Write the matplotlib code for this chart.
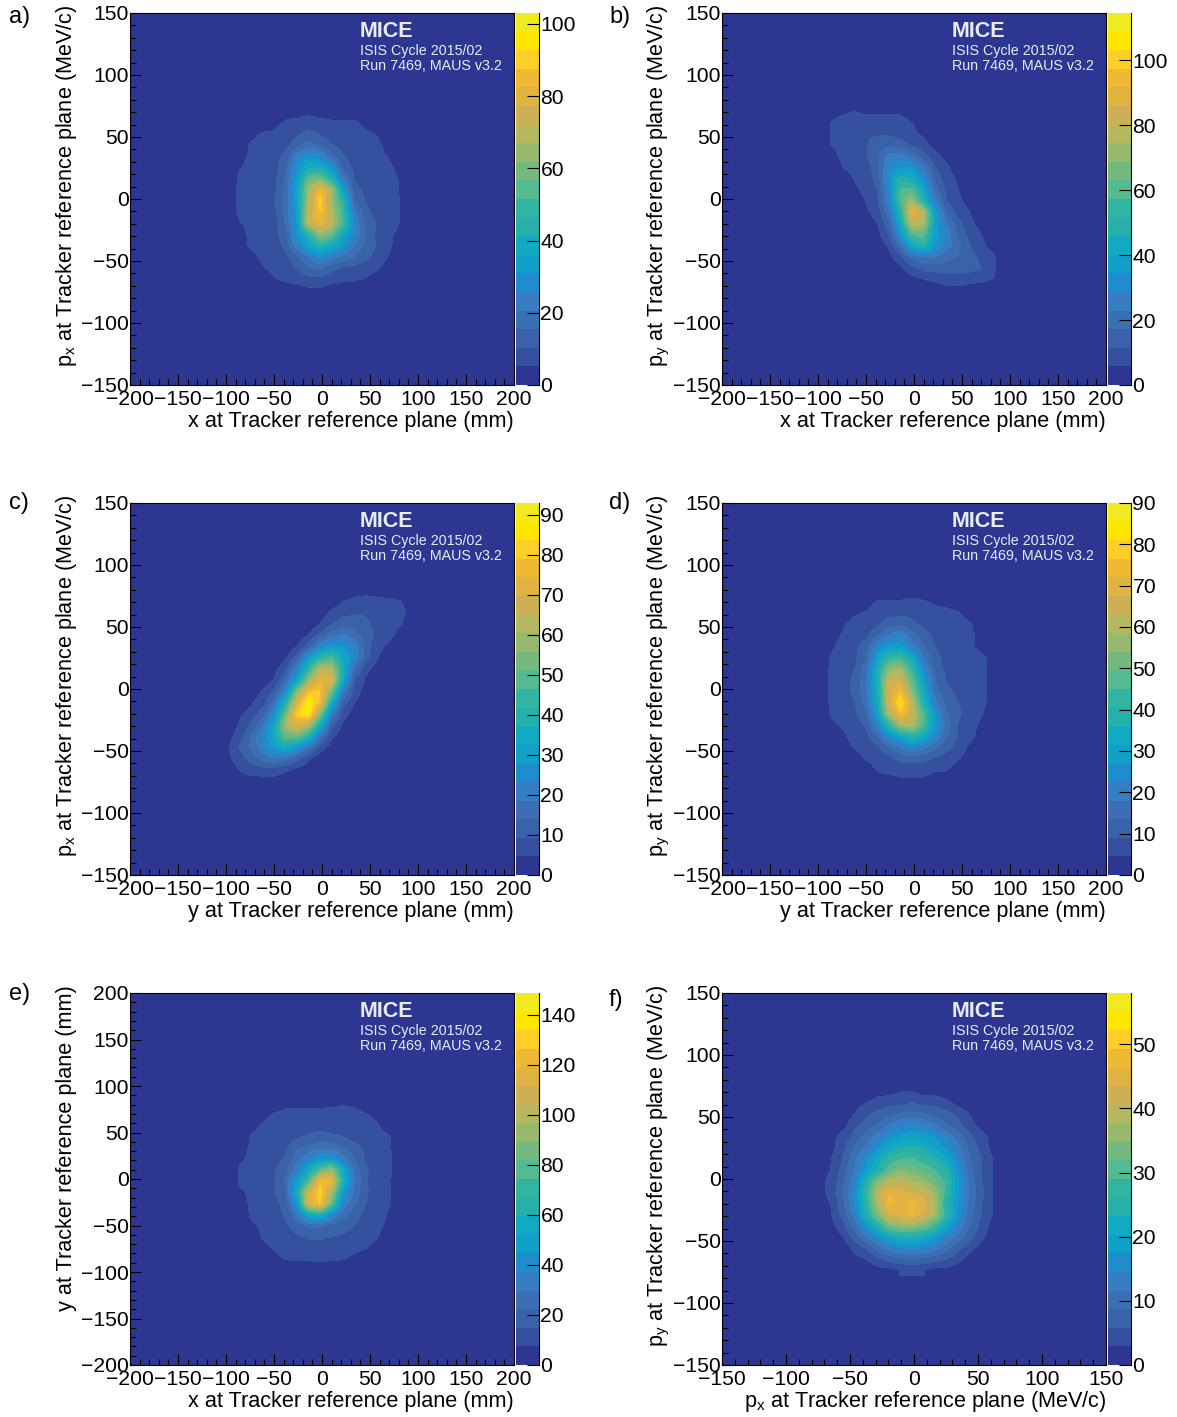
import matplotlib
matplotlib.use("Agg")
import numpy as np
import matplotlib.pyplot as plt
from matplotlib.colors import ListedColormap, BoundaryNorm
from matplotlib.ticker import MultipleLocator, FuncFormatter

plt.rcParams["font.family"] = ["Liberation Sans", "DejaVu Sans"]
plt.rcParams["mathtext.fontset"] = "custom"
plt.rcParams["mathtext.rm"] = "Liberation Sans"
plt.rcParams["axes.unicode_minus"] = True

bird_colors = ["#2d3791", "#34509f", "#3a62a9", "#3c6eb4", "#377dc3", "#1e8ccd",
               "#12a0c8", "#12aac3", "#28afaa", "#32b4a0", "#55b991", "#73b97d",
               "#96b96e", "#b4b95f", "#cdaf55", "#e1b441", "#f0b932", "#ffcd28",
               "#ffe600", "#f0eb1e"]

# counts on a 3-bin grid, top row first, only the middle of each histogram
counts_a = [
    [0, 0, 0, 0, 0, 0, 0, 0, 1, 0, 0, 0, 0, 0, 0, 0, 0],
    [0, 0, 0, 0, 0, 3, 3, 4, 3, 3, 3, 3, 2, 0, 0, 0, 0],
    [0, 0, 0, 2, 4, 6, 7, 8, 7, 6, 6, 6, 4, 2, 0, 0, 0],
    [0, 0, 4, 6, 6, 7, 10, 12, 10, 8, 7, 7, 6, 5, 2, 0, 0],
    [0, 2, 6, 6, 7, 9, 13, 18, 15, 11, 8, 7, 7, 6, 4, 1, 0],
    [0, 4, 6, 6, 8, 12, 25, 30, 28, 17, 11, 8, 7, 6, 5, 3, 0],
    [1, 5, 6, 6, 8, 14, 30, 40, 40, 32, 14, 9, 7, 6, 6, 4, 1],
    [2, 6, 6, 7, 9, 16, 32, 58, 60, 45, 23, 10, 8, 7, 6, 5, 1],
    [3, 6, 6, 7, 9, 17, 35, 66, 84, 70, 35, 12, 9, 8, 6, 5, 2],
    [3, 6, 6, 7, 10, 17, 35, 68, 92, 65, 48, 16, 10, 8, 7, 5, 2],
    [3, 6, 6, 7, 9, 17, 33, 72, 88, 70, 50, 22, 12, 8, 7, 5, 2],
    [2, 5, 6, 7, 8, 16, 32, 74, 82, 72, 52, 26, 14, 10, 7, 5, 1],
    [1, 4, 6, 6, 8, 14, 30, 45, 65, 58, 38, 26, 15, 9, 6, 4, 1],
    [0, 3, 6, 6, 7, 12, 24, 35, 45, 40, 30, 20, 14, 10, 6, 3, 0],
    [0, 1, 4, 6, 6, 9, 14, 22, 28, 24, 20, 16, 12, 8, 5, 2, 0],
    [0, 0, 2, 5, 6, 7, 11, 15, 17, 12, 10, 9, 7, 6, 3, 0, 0],
    [0, 0, 0, 3, 5, 6, 7, 9, 9, 7, 6, 6, 5, 3, 1, 0, 0],
    [0, 0, 0, 0, 2, 3, 3, 4, 4, 3, 3, 2, 1, 0, 0, 0, 0],
]
counts_b = [
    [0, 1, 2, 1, 1, 1, 0, 0, 0, 0, 0, 0, 0, 0, 0, 0, 0],
    [1, 4, 5, 6, 5, 5, 5, 5, 3, 1, 0, 0, 0, 0, 0, 0, 0],
    [3, 6, 8, 9, 8, 8, 9, 8, 6, 3, 1, 0, 0, 0, 0, 0, 0],
    [3, 6, 8, 10, 11, 11, 11, 9, 7, 5, 2, 0, 0, 0, 0, 0, 0],
    [2, 6, 7, 9, 11, 14, 16, 15, 11, 8, 4, 2, 0, 0, 0, 0, 0],
    [1, 4, 7, 8, 11, 16, 26, 26, 22, 14, 8, 4, 1, 0, 0, 0, 0],
    [0, 2, 6, 7, 9, 15, 30, 35, 35, 24, 12, 7, 3, 1, 0, 0, 0],
    [0, 1, 4, 6, 8, 14, 32, 50, 45, 32, 16, 8, 5, 2, 0, 0, 0],
    [0, 0, 2, 5, 7, 12, 30, 58, 60, 40, 20, 10, 6, 3, 1, 0, 0],
    [0, 0, 1, 3, 6, 10, 28, 60, 76, 50, 26, 12, 7, 4, 2, 0, 0],
    [0, 0, 0, 2, 5, 8, 22, 50, 92, 80, 38, 17, 9, 6, 3, 1, 0],
    [0, 0, 0, 1, 3, 6, 16, 45, 80, 76, 38, 24, 14, 7, 4, 2, 0],
    [0, 0, 0, 0, 2, 4, 12, 32, 60, 62, 38, 28, 16, 10, 6, 3, 1],
    [0, 0, 0, 0, 1, 2, 7, 20, 42, 50, 35, 26, 19, 12, 7, 4, 2],
    [0, 0, 0, 0, 0, 1, 4, 10, 20, 24, 24, 19, 17, 14, 10, 7, 3],
    [0, 0, 0, 0, 0, 0, 2, 5, 10, 14, 14, 15, 14, 14, 12, 7, 3],
    [0, 0, 0, 0, 0, 0, 0, 2, 4, 6, 7, 8, 9, 8, 7, 6, 3],
    [0, 0, 0, 0, 0, 0, 0, 0, 1, 2, 3, 4, 4, 3, 3, 2, 1],
]
counts_c = [
    [0, 0, 0, 0, 0, 0, 0, 0, 0, 0, 1, 3, 3, 3, 2, 2, 1],
    [0, 0, 0, 0, 0, 0, 0, 0, 0, 2, 5, 6, 7, 6, 6, 5, 3],
    [0, 0, 0, 0, 0, 0, 0, 0, 2, 6, 8, 9, 9, 8, 7, 6, 3],
    [0, 0, 0, 0, 0, 0, 0, 1, 5, 9, 12, 12, 10, 8, 7, 5, 2],
    [0, 0, 0, 0, 0, 0, 1, 5, 11, 17, 20, 16, 12, 8, 6, 3, 1],
    [0, 0, 0, 0, 0, 1, 5, 12, 24, 30, 28, 22, 12, 6, 4, 2, 0],
    [0, 0, 0, 0, 1, 4, 12, 30, 42, 48, 34, 24, 11, 5, 2, 1, 0],
    [0, 0, 0, 1, 3, 8, 22, 42, 64, 62, 38, 16, 6, 3, 1, 0, 0],
    [0, 0, 1, 2, 5, 14, 32, 58, 74, 72, 34, 10, 4, 2, 0, 0, 0],
    [0, 1, 2, 5, 10, 24, 55, 78, 80, 55, 22, 7, 3, 1, 0, 0, 0],
    [1, 2, 4, 7, 16, 38, 70, 90, 78, 38, 12, 5, 2, 0, 0, 0, 0],
    [1, 4, 6, 12, 24, 52, 82, 90, 58, 22, 7, 3, 1, 0, 0, 0, 0],
    [2, 5, 10, 18, 34, 60, 72, 65, 38, 12, 4, 2, 0, 0, 0, 0, 0],
    [3, 7, 14, 24, 35, 52, 54, 42, 20, 6, 2, 0, 0, 0, 0, 0, 0],
    [4, 10, 15, 22, 30, 36, 30, 20, 8, 3, 1, 0, 0, 0, 0, 0, 0],
    [4, 7, 12, 16, 20, 18, 12, 6, 2, 1, 0, 0, 0, 0, 0, 0, 0],
    [2, 5, 7, 8, 8, 6, 4, 2, 0, 0, 0, 0, 0, 0, 0, 0, 0],
    [1, 3, 3, 3, 3, 2, 1, 0, 0, 0, 0, 0, 0, 0, 0, 0, 0],
]
counts_d = [
    [0, 0, 0, 0, 0, 1, 2, 2, 2, 2, 1, 1, 1, 0, 0, 0, 0],
    [0, 0, 0, 1, 3, 5, 5, 5, 6, 5, 4, 3, 2, 1, 0, 0, 0],
    [0, 0, 2, 4, 5, 6, 7, 8, 8, 7, 6, 6, 5, 3, 1, 0, 0],
    [0, 1, 4, 6, 7, 8, 12, 12, 10, 8, 7, 6, 6, 5, 3, 1, 0],
    [1, 3, 5, 7, 8, 13, 18, 22, 16, 11, 8, 7, 6, 5, 4, 2, 0],
    [1, 4, 6, 8, 11, 23, 28, 30, 20, 14, 9, 7, 6, 5, 4, 3, 1],
    [2, 5, 6, 8, 13, 30, 42, 44, 34, 18, 11, 7, 6, 5, 5, 4, 1],
    [3, 5, 7, 9, 16, 36, 55, 58, 42, 24, 12, 8, 6, 5, 5, 4, 2],
    [3, 5, 7, 10, 17, 38, 64, 66, 50, 30, 14, 9, 7, 6, 5, 4, 2],
    [3, 5, 7, 10, 18, 36, 66, 74, 54, 35, 16, 10, 8, 6, 5, 4, 2],
    [3, 5, 7, 9, 16, 34, 66, 84, 64, 38, 20, 12, 9, 7, 5, 4, 2],
    [2, 5, 6, 8, 13, 30, 60, 76, 64, 48, 26, 14, 10, 7, 5, 3, 1],
    [2, 4, 5, 7, 10, 22, 42, 60, 62, 46, 28, 16, 9, 6, 4, 2, 1],
    [1, 3, 4, 6, 8, 14, 26, 34, 40, 35, 24, 14, 9, 6, 3, 1, 0],
    [0, 1, 3, 5, 6, 8, 14, 18, 24, 20, 15, 11, 7, 4, 2, 0, 0],
    [0, 0, 1, 3, 5, 6, 8, 11, 12, 11, 9, 7, 5, 3, 1, 0, 0],
    [0, 0, 0, 1, 3, 5, 6, 6, 6, 6, 5, 5, 3, 1, 0, 0, 0],
    [0, 0, 0, 0, 1, 3, 3, 4, 4, 4, 3, 3, 1, 0, 0, 0, 0],
]
counts_e = [
    [0, 0, 0, 0, 0, 0, 0, 0, 0, 0, 0, 0, 0, 0, 0, 0, 0],
    [0, 0, 0, 0, 0, 2, 3, 4, 3, 4, 3, 2, 0, 0, 0, 0, 0],
    [0, 0, 0, 2, 4, 6, 6, 6, 6, 6, 7, 6, 3, 1, 0, 0, 0],
    [0, 0, 3, 6, 8, 9, 9, 9, 9, 10, 10, 10, 8, 6, 2, 0, 0],
    [0, 2, 6, 8, 9, 10, 11, 12, 12, 12, 12, 11, 9, 8, 5, 2, 0],
    [1, 4, 8, 9, 9, 11, 14, 16, 18, 16, 15, 12, 11, 9, 8, 4, 1],
    [1, 6, 8, 9, 10, 13, 22, 24, 28, 28, 22, 18, 13, 10, 8, 5, 2],
    [2, 7, 8, 9, 12, 16, 28, 36, 46, 46, 34, 22, 14, 11, 8, 6, 2],
    [3, 8, 8, 10, 14, 20, 34, 54, 80, 96, 56, 28, 16, 11, 8, 6, 2],
    [3, 8, 8, 10, 14, 24, 48, 76, 126, 122, 62, 30, 16, 10, 8, 5, 2],
    [3, 7, 8, 10, 14, 22, 56, 112, 132, 100, 48, 28, 16, 11, 8, 5, 2],
    [3, 6, 8, 10, 12, 18, 46, 114, 128, 84, 36, 24, 15, 10, 8, 5, 2],
    [2, 5, 8, 9, 12, 16, 30, 56, 64, 40, 26, 18, 13, 10, 7, 4, 1],
    [1, 3, 7, 8, 11, 14, 18, 24, 24, 20, 18, 15, 12, 9, 6, 3, 0],
    [0, 2, 5, 8, 10, 12, 14, 16, 16, 15, 14, 12, 10, 8, 4, 1, 0],
    [0, 0, 3, 6, 8, 9, 11, 12, 12, 12, 11, 9, 8, 5, 2, 0, 0],
    [0, 0, 0, 3, 6, 8, 8, 8, 9, 8, 8, 6, 4, 2, 0, 0, 0],
    [0, 0, 0, 0, 2, 3, 4, 5, 4, 4, 3, 2, 1, 0, 0, 0, 0],
]
counts_f = [
    [0, 0, 0, 0, 0, 0, 0, 0, 0, 0, 0, 0, 0, 0, 0, 0, 0],
    [0, 0, 0, 0, 1, 2, 2, 3, 3, 2, 2, 1, 0, 0, 0, 0, 0],
    [0, 0, 0, 2, 3, 4, 5, 5, 6, 5, 5, 4, 2, 1, 0, 0, 0],
    [0, 0, 1, 3, 5, 7, 8, 9, 10, 9, 8, 7, 5, 3, 1, 0, 0],
    [0, 1, 2, 5, 7, 9, 12, 14, 15, 14, 12, 9, 7, 4, 2, 1, 0],
    [0, 2, 4, 7, 10, 13, 16, 18, 20, 19, 17, 14, 10, 7, 4, 2, 0],
    [1, 2, 5, 9, 12, 17, 21, 24, 24, 23, 20, 17, 13, 8, 5, 2, 1],
    [1, 3, 6, 11, 16, 21, 27, 29, 30, 27, 25, 20, 15, 9, 6, 3, 1],
    [2, 3, 7, 12, 18, 24, 31, 35, 33, 32, 29, 25, 17, 10, 6, 3, 1],
    [2, 4, 8, 14, 24, 34, 40, 40, 38, 36, 33, 28, 18, 11, 6, 3, 1],
    [2, 4, 9, 15, 26, 40, 46, 44, 43, 42, 37, 28, 18, 11, 7, 3, 1],
    [2, 3, 8, 15, 26, 38, 48, 45, 47, 45, 38, 25, 17, 11, 6, 3, 1],
    [1, 3, 7, 13, 24, 34, 43, 45, 47, 43, 38, 27, 17, 10, 6, 3, 1],
    [0, 2, 5, 10, 17, 25, 34, 36, 36, 34, 29, 20, 14, 9, 5, 2, 0],
    [0, 1, 3, 7, 12, 16, 21, 24, 24, 22, 19, 14, 11, 7, 4, 1, 0],
    [0, 0, 1, 4, 6, 10, 13, 15, 16, 15, 13, 10, 7, 4, 2, 0, 0],
    [0, 0, 0, 2, 3, 5, 7, 8, 9, 8, 7, 6, 4, 2, 0, 0, 0],
    [0, 0, 0, 0, 1, 2, 2, 3, 3, 3, 2, 2, 1, 0, 0, 0, 0],
]

panel_names = ["a)", "b)", "c)", "d)", "e)", "f)"]
panel_counts = [counts_a, counts_b, counts_c, counts_d, counts_e, counts_f]
panel_max = [103, 114.5, 93, 90, 148.8, 58]
cbar_steps = [20, 20, 10, 10, 20, 10]
x_ranges = [(-200, 200), (-200, 200), (-200, 200), (-200, 200), (-200, 200), (-150, 150)]
y_ranges = [(-150, 150), (-150, 150), (-150, 150), (-150, 150), (-200, 200), (-150, 150)]
x_labels = ["x at Tracker reference plane (mm)", "x at Tracker reference plane (mm)",
            "y at Tracker reference plane (mm)", "y at Tracker reference plane (mm)",
            "x at Tracker reference plane (mm)", r"p$_{\mathrm{x}}$ at Tracker reference plane (MeV/c)"]
y_labels = [r"p$_{\mathrm{x}}$ at Tracker reference plane (MeV/c)",
            r"p$_{\mathrm{y}}$ at Tracker reference plane (MeV/c)",
            r"p$_{\mathrm{x}}$ at Tracker reference plane (MeV/c)",
            r"p$_{\mathrm{y}}$ at Tracker reference plane (MeV/c)",
            "y at Tracker reference plane (mm)",
            r"p$_{\mathrm{y}}$ at Tracker reference plane (MeV/c)"]
name_rows = [17, 17, 503, 503, 994, 1000]

W, H = 1177, 1417
fig = plt.figure(figsize=(W / 100, H / 100), dpi=100)


def box(left, top, right, bottom):
    return [left / W, 1 - bottom / H, (right - left) / W, (bottom - top) / H]


cmap = ListedColormap(bird_colors)
tick_size = 15.2
title_size = 15.6

for n in range(6):
    col = n % 2
    row = n // 2
    left = 130 + 592 * col
    top = 13 + 490 * row
    ax = fig.add_axes(box(left, top, left + 384, top + 372))
    ax.set_facecolor(bird_colors[0])

    xlo, xhi = x_ranges[n]
    ylo, yhi = y_ranges[n]
    bin_x = (xhi - xlo) / 100
    bin_y = (yhi - ylo) / 100
    grid = np.array(panel_counts[n], dtype=float)
    x_left = xlo + bin_x * 24
    x_right = x_left + bin_x * 3 * grid.shape[1]
    y_top = yhi - bin_y * 22
    y_bottom = y_top - bin_y * 3 * grid.shape[0]

    levels = np.linspace(0, panel_max[n], 21)
    norm = BoundaryNorm(levels, 20)
    ax.imshow(grid, cmap=cmap, norm=norm, extent=(x_left, x_right, y_bottom, y_top), aspect="auto",
              interpolation="bilinear", interpolation_stage="data")

    ax.set_xlim(xlo, xhi)
    ax.set_ylim(ylo, yhi)
    ax.xaxis.set_major_locator(MultipleLocator(50))
    ax.xaxis.set_minor_locator(MultipleLocator(10))
    ax.yaxis.set_major_locator(MultipleLocator(50))
    ax.yaxis.set_minor_locator(MultipleLocator(10))
    ax.tick_params(which="major", direction="in", length=8, width=0.8, labelsize=tick_size, pad=3.5)
    ax.tick_params(which="minor", direction="in", length=4, width=0.8)
    ax.tick_params(axis="y", which="major", pad=1)
    for side in ax.spines.values():
        side.set_linewidth(0.8)

    ax.text(1.0, -0.098, x_labels[n], transform=ax.transAxes, ha="right", va="center", fontsize=title_size)
    ax.text(-0.165, 1.022, y_labels[n], transform=ax.transAxes, rotation=90, ha="center", va="top", fontsize=title_size)

    ax.text(0.598, 0.951, "MICE", transform=ax.transAxes, color="#e8ecf6", fontsize=15.5, fontweight="bold", va="center")
    ax.text(0.599, 0.897, "ISIS Cycle 2015/02", transform=ax.transAxes, color="#e8ecf6", fontsize=10.3, va="center")
    ax.text(0.599, 0.857, "Run 7469, MAUS v3.2", transform=ax.transAxes, color="#e8ecf6", fontsize=10.3, va="center")

    fig.text((9 + 600 * col) / W, 1 - name_rows[n] / H, panel_names[n], fontsize=17, va="center")

    cax = fig.add_axes(box(left + 385.5, top, left + 409, top + 372))
    cax.set_facecolor(bird_colors[0])
    cax.pcolormesh([0, 1], levels, np.arange(20).reshape(-1, 1), cmap=cmap)
    cax.set_xlim(0, 1)
    cax.set_ylim(0, panel_max[n])
    cax.set_xticks([])
    cax.yaxis.tick_right()
    cax.yaxis.set_major_locator(MultipleLocator(cbar_steps[n]))
    cax.yaxis.set_major_formatter(FuncFormatter(lambda v, p: f"{v:.0f}"))
    cax.tick_params(axis="y", direction="in", length=9, width=0.8, labelsize=tick_size, pad=1)
    for name in ["left", "top", "bottom"]:
        cax.spines[name].set_visible(False)
    cax.spines["right"].set_linewidth(0.8)

fig.savefig("out.png", dpi=100)
